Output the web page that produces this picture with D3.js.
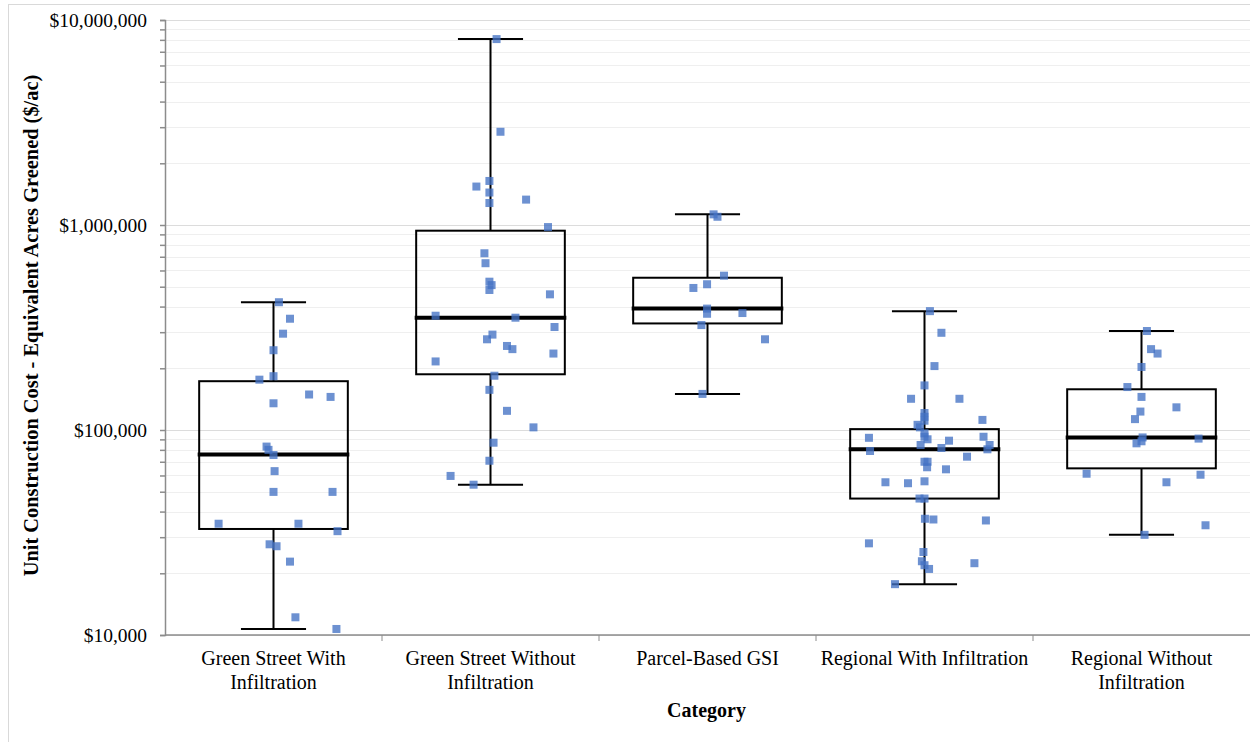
<!DOCTYPE html>
<html>
<head>
<meta charset="utf-8">
<script src="https://cdn.jsdelivr.net/npm/d3@7"></script>
<style>
  body { margin: 0; background: #fff; }
</style>
</head>
<body>
<div id="chart"></div>
<script>
// categories and tick labels
const categories = [
    "Green Street With Infiltration",
    "Green Street Without Infiltration",
    "Parcel-Based GSI",
    "Regional With Infiltration",
    "Regional Without Infiltration"
];
const categoryLines = [
    ["Green Street With", "Infiltration"],
    ["Green Street Without", "Infiltration"],
    ["Parcel-Based GSI"],
    ["Regional With Infiltration"],
    ["Regional Without", "Infiltration"]
];
const yTicks = [10000, 100000, 1000000, 10000000];

// box statistics ($/ac)
const boxMin    = [10700, 54100, 150000, 17700, 30800];
const boxQ1     = [32900, 187000, 331000, 46300, 65000];
const boxMedian = [75900, 353000, 391000, 80500, 92000];
const boxQ3     = [173000, 938000, 553000, 101000, 158000];
const boxMax    = [420000, 8070000, 1127000, 380000, 304000];

// individual projects ($/ac) and their jitter (percent of the category band)
const greenStreetWith = [420000, 349000, 295000, 245000, 183000, 176000, 149000, 145000, 135000, 83000, 80000, 75500,
    63000, 49900, 49900, 34900, 34900, 32100, 27700, 27100, 22800, 12200, 10700];
const greenStreetWithJitter = [2.5, 7.6, 4.4, 0, 0, -6.5, 16.4, 26.3, 0, -3.2, -2.3, 0, 0.5, 0, 27.2, -25.3, 11.5,
    29.5, -1.8, 1.4, 7.6, 10.1, 29];

const greenStreetWithout = [8070000, 2850000, 1640000, 1540000, 1440000, 1330000, 1280000, 977000, 728000, 651000,
    529000, 509000, 482000, 459000, 361000, 353000, 318000, 292000, 277000, 257000, 248000, 236000, 216000, 184000,
    157000, 124000, 103000, 86700, 70800, 59700, 54100];
const greenStreetWithoutJitter = [2.8, 4.6, -0.5, -6.5, -0.5, 16.4, -0.5, 26.5, -2.8, -2.3, -0.5, 0.5, -0.5, 27.4,
    -25.3, 11.5, 29.5, 0.9, -1.6, 7.6, 10.1, 29, -25.3, 1.8, -0.5, 7.6, 19.8, 1.4, -0.5, -18.4, -7.8];

const parcelBased = [1127000, 1097000, 566000, 514000, 493000, 391000, 369000, 372000, 325000, 277000, 150000];
const parcelBasedJitter = [2.8, 4.6, 7.6, -0.2, -6.5, -0.2, -0.2, 16.1, -2.8, 26.5, -2.3];

const regionalWith = [380000, 298000, 205000, 165000, 142000, 142000, 121000, 116000, 111000, 112000, 106000, 103000,
    96300, 92700, 91600, 92700, 90100, 88700, 84500, 84500, 81700, 80500, 79000, 74100, 70000, 70000, 65800, 64300,
    55600, 55000, 56200, 46300, 46300, 36900, 36600, 36200, 28000, 25400, 22900, 21900, 21000, 22400, 17700];
const regionalWithJitter = [2.5, 7.8, 4.6, 0, -6.2, 16.1, 0, 0, 0, 26.7, -3.2, -2.1, 0, 0, -25.6, 27.2, 1.4, 11.3,
    -1.8, 30, 7.8, 29, -25.1, 19.6, 0, 1.4, 1.2, 9.9, -18, -7.6, 0, -2.3, 0, 0.2, 4.1, 28.3, -25.6, -0.5, -1.2, 0,
    2.1, 23, -13.6];

const regionalWithout = [304000, 248000, 236000, 203000, 162000, 145000, 129000, 123000, 113000, 92000, 90800, 88100,
    86100, 61200, 60500, 55600, 34300, 30800];
const regionalWithoutJitter = [2.5, 4.4, 7.4, 0, -6.5, 0, 16.1, -0.5, -3, 0.5, 26.3, 0, -2.3, -25.3, 27.2, 11.5,
    29.5, 1.4];

const seriesValues = [greenStreetWith, greenStreetWithout, parcelBased, regionalWith, regionalWithout];
const seriesJitter = [greenStreetWithJitter, greenStreetWithoutJitter, parcelBasedJitter, regionalWithJitter,
    regionalWithoutJitter];

// layout
const width = 1250, height = 742;
const margin = {top: 20, right: 0, bottom: 107, left: 165};
const serif = '"Liberation Serif", "Times New Roman", serif';

const svg = d3.select('#chart').append('svg')
    .attr('width', width)
    .attr('height', height)
    .style('font-family', serif);

// chart frame
svg.append('rect')
    .attr('x', 8.5).attr('y', 4.5)
    .attr('width', width).attr('height', height)
    .style('fill', 'none')
    .style('stroke', '#d9d9d9');

const x = d3.scaleBand()
    .domain(categories)
    .range([margin.left, width - margin.right]);

const y = d3.scaleLog()
    .domain([1e4, 1e7])
    .range([height - margin.bottom, margin.top]);

const jitter = d3.scaleLinear()
    .domain([0, 100])
    .range([0, x.bandwidth()]);

const boxWidth = x.bandwidth() * 0.685;
const capWidth = x.bandwidth() * 0.3;

// gridlines: minor then major
const minorTicks = y.ticks().filter(t => yTicks.indexOf(t) < 0);
svg.append('g').selectAll('line')
    .data(minorTicks)
    .enter().append('line')
    .attr('x1', margin.left).attr('x2', width - margin.right)
    .attr('y1', d => Math.round(y(d)) + 0.5).attr('y2', d => Math.round(y(d)) + 0.5)
    .style('stroke', '#efefef');
svg.append('g').selectAll('line')
    .data(yTicks)
    .enter().append('line')
    .attr('x1', margin.left).attr('x2', width - margin.right)
    .attr('y1', d => Math.round(y(d)) + 0.5).attr('y2', d => Math.round(y(d)) + 0.5)
    .style('stroke', '#dcdcdc');

// y axis
const yAxis = svg.append('g')
    .attr('transform', `translate(${margin.left},0)`)
    .call(d3.axisLeft(y).tickValues(y.ticks()).tickSize(5).tickFormat(d => yTicks.indexOf(d) >= 0 ? d3.format('$,')(d) : ''));
yAxis.attr('font-family', null).attr('font-size', null);
yAxis.select('.domain').style('stroke', '#8c8c8c').style('stroke-width', 1.5);
yAxis.selectAll('.tick line').style('stroke', '#8c8c8c').style('stroke-width', 1.5);
yAxis.selectAll('.tick text')
    .attr('x', -18)
    .style('font-size', '19.5px')
    .style('font-family', serif)
    .style('fill', '#000');

// x axis
const xAxisG = svg.append('g');
xAxisG.append('line')
    .attr('x1', margin.left).attr('x2', width)
    .attr('y1', y(1e4)).attr('y2', y(1e4))
    .style('stroke', '#8c8c8c').style('stroke-width', 1.5);
xAxisG.selectAll('line.sep')
    .data(categories.slice(1))
    .enter().append('line')
    .attr('class', 'sep')
    .attr('x1', d => x(d)).attr('x2', d => x(d))
    .attr('y1', y(1e4)).attr('y2', y(1e4) + 6)
    .style('stroke', '#8c8c8c').style('stroke-width', 1);

const catLabels = xAxisG.selectAll('text.cat')
    .data(categories)
    .enter().append('text')
    .attr('class', 'cat')
    .attr('text-anchor', 'middle')
    .style('font-family', serif)
    .style('font-size', '20px');
catLabels.each(function(d, i) {
    d3.select(this).selectAll('tspan')
        .data(categoryLines[i])
        .enter().append('tspan')
        .attr('x', x(d) + x.bandwidth() / 2)
        .attr('y', (t, j) => y(1e4) + 30 + j * 24)
        .text(t => t);
});

// axis titles
svg.append('text')
    .attr('x', (margin.left + width) / 2 - 1)
    .attr('y', y(1e4) + 82)
    .attr('text-anchor', 'middle')
    .style('font-family', serif)
    .style('font-size', '20px')
    .style('font-weight', 'bold')
    .text('Category');

svg.append('text')
    .attr('transform', `translate(38,${(y(1e4) + y(1e7)) / 2 - 2}) rotate(-90)`)
    .attr('text-anchor', 'middle')
    .style('font-family', serif)
    .style('font-size', '20.4px')
    .style('font-weight', 'bold')
    .text('Unit Construction Cost - Equivalent Acres Greened ($/ac)');

// boxes
const boxes = svg.append('g').selectAll('g.box')
    .data(categories)
    .enter().append('g')
    .attr('class', 'box');

boxes.each(function(d, i) {
    const g = d3.select(this);
    const cx = x(d) + x.bandwidth() / 2;
    // whiskers
    g.append('line')
        .attr('x1', cx).attr('x2', cx)
        .attr('y1', y(boxMax[i])).attr('y2', y(boxQ3[i]))
        .style('stroke', '#000').style('stroke-width', 2);
    g.append('line')
        .attr('x1', cx).attr('x2', cx)
        .attr('y1', y(boxQ1[i])).attr('y2', y(boxMin[i]))
        .style('stroke', '#000').style('stroke-width', 2);
    [boxMax[i], boxMin[i]].forEach(v => {
        g.append('line')
            .attr('x1', cx - capWidth / 2).attr('x2', cx + capWidth / 2)
            .attr('y1', y(v)).attr('y2', y(v))
            .style('stroke', '#000').style('stroke-width', 2);
    });
    g.append('rect')
        .attr('x', cx - boxWidth / 2)
        .attr('y', y(boxQ3[i]))
        .attr('width', boxWidth)
        .attr('height', y(boxQ1[i]) - y(boxQ3[i]))
        .style('fill', 'none')
        .style('stroke', '#000')
        .style('stroke-width', 2);
    g.append('line')
        .attr('x1', cx - boxWidth / 2 - 1.5).attr('x2', cx + boxWidth / 2 + 1.5)
        .attr('y1', y(boxMedian[i])).attr('y2', y(boxMedian[i]))
        .style('stroke', '#000').style('stroke-width', 4);
});

// points
const pointData = [];
categories.forEach((c, i) => {
    seriesValues[i].forEach((v, j) => pointData.push({cat: c, value: v, jit: seriesJitter[i][j]}));
});

const sq = 8;
svg.append('g').selectAll('rect.point')
    .data(pointData)
    .enter().append('rect')
    .attr('class', 'point')
    .attr('x', d => x(d.cat) + x.bandwidth() / 2 + jitter(d.jit) - sq / 2)
    .attr('y', d => y(d.value) - sq / 2)
    .attr('width', sq)
    .attr('height', sq)
    .style('fill', '#4472c4')
    .style('fill-opacity', 0.78);
</script>
</body>
</html>
